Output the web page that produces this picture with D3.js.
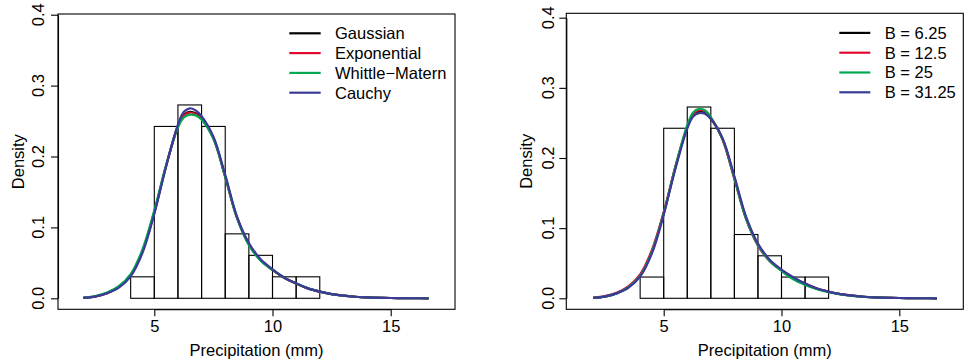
<!DOCTYPE html>
<html>
<head>
<meta charset="utf-8">
<script src="https://cdn.jsdelivr.net/npm/d3@7/dist/d3.min.js"></script>
<style>
  html, body { margin: 0; padding: 0; background: #fff; }
  svg { display: block; }
  text { font-family: "Liberation Sans", Arial, Helvetica, sans-serif; fill: #000; }
</style>
</head>
<body>
<svg id="chart" width="964" height="364"></svg>
<script>
// Histogram of precipitation (density scale), 1 mm bins
const binEdges = [4, 5, 6, 7, 8, 9, 10, 11, 12];
const binDensity = [0.0303, 0.2424, 0.2727, 0.2424, 0.0909, 0.0606, 0.0303, 0.0303];

// Grid on which the fitted densities are evaluated (mm)
const xGrid = [2.0, 2.5, 3.0, 3.5, 4.0, 4.5, 5.0, 5.5, 6.0, 6.25, 6.5, 6.75, 7.0, 7.5,
               8.0, 8.5, 9.0, 9.5, 10.0, 10.5, 11.0, 11.5, 12.0, 12.5, 13.0, 13.5,
               14.0, 15.0, 16.0, 16.6];

// Left panel: covariance models
const covNames = ["Gaussian", "Exponential", "Whittle\u2212Matern", "Cauchy"];
const gaussian    = [0.0005, 0.0025, 0.007, 0.016, 0.032, 0.066, 0.121, 0.187, 0.243, 0.259, 0.263, 0.261, 0.254, 0.226,
                     0.172, 0.114, 0.077, 0.054, 0.040, 0.029, 0.021, 0.014, 0.0094, 0.006, 0.0037, 0.0022,
                     0.0012, 0.0004, 0.0001, 0.0];
const exponential = [0.0005, 0.0025, 0.007, 0.016, 0.033, 0.067, 0.122, 0.187, 0.242, 0.258, 0.262, 0.260, 0.253, 0.226,
                     0.171, 0.113, 0.076, 0.054, 0.040, 0.029, 0.021, 0.014, 0.0094, 0.006, 0.0037, 0.0022,
                     0.0012, 0.0004, 0.0001, 0.0];
const whittle     = [0.0006, 0.003, 0.008, 0.017, 0.034, 0.069, 0.124, 0.188, 0.241, 0.255, 0.259, 0.258, 0.252, 0.225,
                     0.171, 0.113, 0.075, 0.053, 0.040, 0.029, 0.021, 0.014, 0.0095, 0.006, 0.0037, 0.0022,
                     0.0012, 0.0004, 0.0001, 0.0];
const cauchy      = [0.0005, 0.0024, 0.007, 0.015, 0.031, 0.064, 0.119, 0.186, 0.245, 0.263, 0.268, 0.265, 0.257, 0.228,
                     0.174, 0.115, 0.078, 0.055, 0.041, 0.029, 0.021, 0.014, 0.0094, 0.006, 0.0037, 0.0022,
                     0.0012, 0.0004, 0.0001, 0.0];

// Right panel: bandwidth B
const bandNames = ["B = 6.25", "B = 12.5", "B = 25", "B = 31.25"];
const b625  = [0.0005, 0.0025, 0.007, 0.016, 0.032, 0.066, 0.121, 0.187, 0.244, 0.261, 0.266, 0.264, 0.256, 0.227,
               0.172, 0.114, 0.077, 0.054, 0.040, 0.029, 0.021, 0.014, 0.0094, 0.006, 0.0037, 0.0022,
               0.0012, 0.0004, 0.0001, 0.0];
const b125  = [0.0006, 0.003, 0.008, 0.017, 0.034, 0.069, 0.123, 0.188, 0.244, 0.262, 0.268, 0.267, 0.258, 0.226,
               0.170, 0.113, 0.075, 0.053, 0.040, 0.029, 0.021, 0.014, 0.0094, 0.006, 0.0037, 0.0022,
               0.0012, 0.0004, 0.0001, 0.0];
const b25   = [0.0005, 0.0025, 0.007, 0.016, 0.032, 0.066, 0.121, 0.188, 0.247, 0.265, 0.270, 0.268, 0.258, 0.227,
               0.171, 0.113, 0.076, 0.053, 0.039, 0.027, 0.019, 0.013, 0.0088, 0.0056, 0.0035, 0.0021,
               0.0012, 0.0004, 0.0001, 0.0];
const b3125 = [0.0005, 0.0024, 0.007, 0.015, 0.031, 0.064, 0.119, 0.185, 0.242, 0.259, 0.264, 0.263, 0.256, 0.228,
               0.174, 0.116, 0.078, 0.055, 0.041, 0.030, 0.021, 0.014, 0.0095, 0.006, 0.0037, 0.0022,
               0.0012, 0.0004, 0.0001, 0.0];

const xTicks = [5, 10, 15];
const yTicks = [0.0, 0.1, 0.2, 0.3, 0.4];
const xTitle = "Precipitation (mm)";
const yTitle = "Density";
const lineColors = ["#000000", "#DF0A2E", "#00A84F", "#3A3A98"];

const svg = d3.select("#chart");
const FONT = 16.5;

function drawPanel(p) {
  const g = svg.append("g");
  const x = d3.scaleLinear().domain([5, 15]).range([p.x5, p.x15]);
  const y = d3.scaleLinear().domain([0, 0.4]).range([p.y0, p.y4]);

  // histogram bars
  g.append("g").selectAll("rect")
    .data(binDensity)
    .join("rect")
    .attr("x", (d, i) => x(binEdges[i]))
    .attr("width", (d, i) => x(binEdges[i + 1]) - x(binEdges[i]))
    .attr("y", d => y(d))
    .attr("height", d => y(0) - y(d))
    .attr("fill", "none")
    .attr("stroke", "#000")
    .attr("stroke-width", 1.1);

  // density curves
  const line = d3.line()
    .x(d => x(d[0]))
    .y(d => y(d[1]))
    .curve(d3.curveCatmullRom.alpha(0.5));
  p.series.forEach((s, k) => {
    g.append("path")
      .datum(xGrid.map((v, i) => [v, s[i]]))
      .attr("fill", "none")
      .attr("stroke", lineColors[k])
      .attr("stroke-width", 2.2)
      .attr("stroke-linejoin", "round")
      .attr("d", line);
  });

  // frame
  g.append("rect")
    .attr("x", p.left).attr("y", p.top)
    .attr("width", p.right - p.left).attr("height", p.bottom - p.top)
    .attr("fill", "none").attr("stroke", "#000").attr("stroke-width", 1.1);

  // x axis
  const xa = g.append("g")
    .attr("transform", `translate(0,${p.bottom})`)
    .call(d3.axisBottom(x).tickValues(xTicks).tickSize(7).tickSizeOuter(0).tickFormat(d3.format("d")));
  xa.selectAll("path, line").attr("stroke", "#000").attr("stroke-width", 1.1);
  xa.selectAll("text").attr("font-size", FONT).attr("y", 10.5).attr("dy", "0.71em")
    .style("font-family", "'Liberation Sans', Arial, sans-serif");

  // y axis (labels parallel to the axis)
  const ya = g.append("g")
    .attr("transform", `translate(${p.left},0)`)
    .call(d3.axisLeft(y).tickValues(yTicks).tickSize(7).tickSizeOuter(0).tickFormat(() => ""));
  ya.selectAll("path, line").attr("stroke", "#000").attr("stroke-width", 1.1);
  g.append("g").selectAll("text")
    .data(yTicks)
    .join("text")
    .attr("transform", d => `translate(${p.yLabX},${y(d)}) rotate(-90)`)
    .attr("text-anchor", "middle")
    .attr("font-size", FONT)
    .text(d3.format(".1f"));

  // titles
  g.append("text")
    .attr("x", (p.left + p.right) / 2).attr("y", 355.5)
    .attr("text-anchor", "middle").attr("font-size", FONT)
    .text(xTitle);
  g.append("text")
    .attr("transform", `translate(${p.yTitleX},${(p.top + p.bottom) / 2}) rotate(-90)`)
    .attr("text-anchor", "middle").attr("font-size", FONT)
    .text(yTitle);

  // legend
  const lg = g.append("g");
  p.names.forEach((name, k) => {
    const ly = p.legY + k * 19.8;
    lg.append("line")
      .attr("x1", p.legX1).attr("x2", p.legX2)
      .attr("y1", ly).attr("y2", ly)
      .attr("stroke", lineColors[k]).attr("stroke-width", 2.2);
    lg.append("text")
      .attr("x", p.legTextX).attr("y", ly + 5.9)
      .attr("font-size", FONT)
      .text(name);
  });
}

drawPanel({
  left: 58, top: 14, right: 455, bottom: 309.3,
  x5: 154.3, x15: 390.7, y0: 298.3, y4: 14.7,
  yLabX: 44, yTitleX: 23.5,
  series: [gaussian, exponential, whittle, cauchy],
  names: covNames,
  legX1: 289.3, legX2: 320.7, legTextX: 335, legY: 33.3
});

drawPanel({
  left: 566.3, top: 13.3, right: 963.3, bottom: 309.3,
  x5: 663.7, x15: 899.3, y0: 298.3, y4: 17.7,
  yLabX: 553.5, yTitleX: 532,
  series: [b625, b125, b25, b3125],
  names: bandNames,
  legX1: 839.3, legX2: 870.3, legTextX: 884.7, legY: 32.9
});
</script>
</body>
</html>
